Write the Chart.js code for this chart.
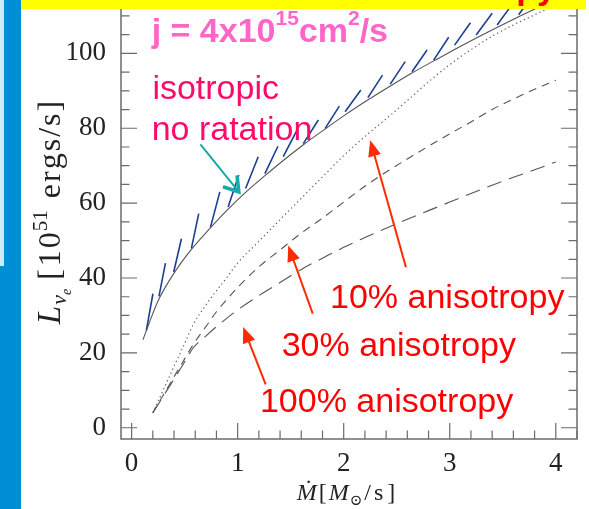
<!DOCTYPE html>
<html>
<head>
<meta charset="utf-8">
<script src="https://cdn.jsdelivr.net/npm/chart.js@4.4.1/dist/chart.umd.min.js"></script>
<style>
  html, body { margin: 0; padding: 0; background: #fff; }
  #wrap { position: relative; width: 589px; height: 509px; overflow: hidden; background: #fff; }
  #chart { position: absolute; left: 0; top: -20px; }
  #bar { position: absolute; left: 0; top: 0; width: 21px; height: 509px; background: #008ed6; }
  #barLight { position: absolute; left: 0; top: 0; width: 4px; height: 266px; background: #cfe9f9; }
  #banner { position: absolute; left: 21px; top: 0; width: 565px; height: 9px; background: #ffff00; overflow: hidden; }
  #banner span { position: absolute; right: 30px; top: -30px; font: bold 34px 'Liberation Sans', Arial, sans-serif; line-height: 34px; color: #ff0000; white-space: nowrap; }
</style>
</head>
<body>
<div id="wrap">
  <canvas id="chart" width="589" height="529"></canvas>
  <div id="bar"></div><div id="barLight"></div>
  <div id="banner"><span>100% anisotropy</span></div>
</div>
<script>
// accretion rate [Msun/s] and neutrino luminosity [1e51 erg/s]
const mdotIso = [0.107, 0.14, 0.2, 0.26, 0.4, 0.56, 0.74, 0.91, 1.08, 1.26, 1.43, 1.62, 1.82, 2.01, 2.23, 2.44, 2.64, 2.85, 3.05, 3.25, 3.45, 3.65, 3.85, 4.0]
const lumIso = [23.5, 26, 30.5, 34.5, 41.3, 47.5, 53.3, 58.4, 63, 67.4, 71.4, 75.6, 79.7, 83.5, 87.6, 91.3, 94.7, 98, 101.1, 104.1, 107, 109.8, 112.5, 114.5]

const mdotAniso = [0.2, 0.3, 0.4, 0.5, 0.58, 0.7, 0.8, 0.9, 1.0, 1.2, 1.4, 1.6, 1.8, 2.0, 2.2, 2.4, 2.6, 2.8, 3.0, 3.2, 3.4, 3.6, 3.8, 4.0]
const lum10 = [4, 10.2, 16.4, 22.5, 27.5, 32.8, 36.6, 40.2, 44, 49.8, 55.6, 61.3, 67, 72.7, 77.8, 82.5, 87.4, 92.4, 97, 101, 104.6, 107.6, 110.3, 113]
const lum30 = [4, 8.8, 13.6, 18.4, 22.2, 27, 31, 34.3, 37.5, 43, 47.5, 52, 56, 60.3, 64.5, 68.3, 71.8, 75.2, 78.5, 81.7, 85, 87.8, 90.4, 92.8]
const lum100 = [4, 8.5, 13, 17.6, 21.3, 24.5, 27, 29.3, 31.5, 35.3, 38.8, 42.3, 45.3, 48.2, 50.8, 53.3, 55.7, 58, 60.3, 62.6, 64.8, 66.9, 68.9, 71]

// hatch strokes above the isotropic curve (start -> end)
const hatchX0 = [0.139, 0.258, 0.397, 0.564, 0.744, 0.910, 1.075, 1.257, 1.430, 1.619, 1.824, 2.013, 2.228, 2.439, 2.644, 2.848, 3.046, 3.249, 3.447, 3.65]
const hatchY0 = [26.0, 35.1, 41.6, 47.9, 53.6, 59.0, 63.9, 67.9, 72.4, 75.9, 79.9, 84.4, 88.2, 91.8, 95.1, 98.2, 102.2, 104.9, 107.6, 110.3]
const hatchX1 = [0.201, 0.319, 0.470, 0.633, 0.832, 1.011, 1.194, 1.380, 1.560, 1.761, 1.959, 2.162, 2.366, 2.580, 2.786, 2.990, 3.195, 3.400, 3.598, 3.80]
const hatchY1 = [35.8, 44.0, 50.5, 57.2, 63.0, 67.5, 72.4, 75.2, 79.5, 82.2, 85.9, 90.2, 94.2, 97.8, 100.9, 104.3, 108.2, 110.7, 113.5, 116.2]

// annotations (anchored in data units)
const noteText = ['isotropic', 'no ratation', '10% anisotropy', '30% anisotropy', '100% anisotropy']
const noteX = [0.196, 0.189, 1.871, 1.415, 1.21]
const noteY = [87.8, 77.0, 32.1, 19.3, 4.2]
const arrowTailX = [2.587, 1.708, 1.264]
const arrowTailY = [42.9, 30.5, 11.6]
const arrowTipX = [2.25, 1.477, 1.052]
const arrowTipY = [76.8, 48.7, 26.9]
const cyanTail = [0.649, 75.7]
const cyanTip = [1.011, 63.0]
const jAnchor = [0.189, 103.1]

const xTicks = [0, 1, 2, 3, 4]
const yTicks = [0, 20, 40, 60, 80, 100]

const toPts = (xs, ys) => xs.map((x, i) => ({ x, y: ys[i] }))

const hatchPts = []
hatchX0.forEach((x0, i) => {
  hatchPts.push({ x: x0, y: hatchY0[i] }, { x: hatchX1[i], y: hatchY1[i] }, { x: hatchX1[i], y: null })
})

const SERIF = "'Liberation Serif', 'DejaVu Serif', serif"
const SANS = "'Liberation Sans', Arial, sans-serif"

function drawArrow(ctx, x0, y0, x1, y1, color, width, headLen, headW, open) {
  const ang = Math.atan2(y1 - y0, x1 - x0)
  ctx.save()
  ctx.strokeStyle = color
  ctx.fillStyle = color
  ctx.lineWidth = width
  ctx.beginPath()
  ctx.moveTo(x0, y0)
  ctx.lineTo(open ? x1 : x1 - Math.cos(ang) * headLen * 0.8, open ? y1 : y1 - Math.sin(ang) * headLen * 0.8)
  ctx.stroke()
  const bx = x1 - Math.cos(ang) * headLen
  const by = y1 - Math.sin(ang) * headLen
  const nx = -Math.sin(ang) * headW / 2
  const ny = Math.cos(ang) * headW / 2
  ctx.beginPath()
  if (open) {
    ctx.lineWidth = width * 1.8
    ctx.moveTo(bx + nx, by + ny)
    ctx.lineTo(x1, y1)
    ctx.lineTo(bx - nx, by - ny)
    ctx.stroke()
  } else {
    ctx.moveTo(x1, y1)
    ctx.lineTo(bx + nx, by + ny)
    ctx.lineTo(bx - nx, by - ny)
    ctx.closePath()
    ctx.fill()
  }
  ctx.restore()
}

function drawRuns(ctx, runs, x, y) {
  runs.forEach(r => {
    ctx.font = r.font
    ctx.fillText(r.text, x, y + (r.dy || 0))
    x += ctx.measureText(r.text).width + (r.gap || 0)
  })
}

function runsWidth(ctx, runs) {
  return runs.reduce((w, r) => {
    ctx.font = r.font
    return w + ctx.measureText(r.text).width + (r.gap || 0)
  }, 0)
}

const frameTicks = {
  id: 'frameTicks',
  afterDatasetsDraw(chart) {
    const { ctx, chartArea: a, scales: { x, y } } = chart
    ctx.save()
    ctx.strokeStyle = '#6b6b6b'
    ctx.lineWidth = 1.5
    ctx.strokeRect(a.left, a.top, a.right - a.left, a.bottom - a.top)
    ctx.lineWidth = 1.2
    ctx.beginPath()
    for (let i = 0; i <= 21; i++) {
      const px = x.getPixelForValue(i * 0.2)
      const len = i % 5 === 0 ? 16 : 8.5
      ctx.moveTo(px, a.bottom); ctx.lineTo(px, a.bottom - len)
      ctx.moveTo(px, a.top); ctx.lineTo(px, a.top + len)
    }
    for (let v = 0; v <= 115; v += 5) {
      const py = y.getPixelForValue(v)
      const len = v % 20 === 0 ? 16 : 8.5
      ctx.moveTo(a.left, py); ctx.lineTo(a.left + len, py)
      ctx.moveTo(a.right, py); ctx.lineTo(a.right - len, py)
    }
    ctx.stroke()
    ctx.restore()
  }
}

const notes = {
  id: 'notes',
  afterDraw(chart) {
    const { ctx, chartArea: a, scales: { x, y } } = chart
    ctx.save()
    ctx.textBaseline = 'alphabetic'
    ctx.textAlign = 'left'

    // j = 4x10^15 cm^2/s
    ctx.fillStyle = '#ff66c8'
    drawRuns(ctx, [
      { text: 'j = 4x10', font: 'bold 34px ' + SANS },
      { text: '15', font: 'bold 21px ' + SANS, dy: -17 },
      { text: 'cm', font: 'bold 34px ' + SANS },
      { text: '2', font: 'bold 21px ' + SANS, dy: -17 },
      { text: '/s', font: 'bold 34px ' + SANS }
    ], x.getPixelForValue(jAnchor[0]), y.getPixelForValue(jAnchor[1]))

    ctx.font = '34px ' + SANS
    noteText.forEach((t, i) => {
      ctx.fillStyle = i < 2 ? '#ff0a6a' : '#ff0000'
      ctx.fillText(t, x.getPixelForValue(noteX[i]), y.getPixelForValue(noteY[i]))
    })

    arrowTailX.forEach((tx, i) => {
      drawArrow(ctx, x.getPixelForValue(tx), y.getPixelForValue(arrowTailY[i]),
        x.getPixelForValue(arrowTipX[i]), y.getPixelForValue(arrowTipY[i]), '#ff2a00', 2, 16, 13, false)
    })
    drawArrow(ctx, x.getPixelForValue(cyanTail[0]), y.getPixelForValue(cyanTail[1]),
      x.getPixelForValue(cyanTip[0]), y.getPixelForValue(cyanTip[1]), '#17a9a9', 2, 14, 18, true)

    // y axis title
    ctx.fillStyle = '#222'
    const big = '32px ' + SERIF
    const yRuns = [
      { text: 'L', font: 'italic 33px ' + SERIF, gap: 1 },
      { text: 'ν', font: 'italic 22px ' + SERIF, dy: 6 },
      { text: 'e', font: 'italic 14px ' + SERIF, dy: 11, gap: 9 },
      { text: '[', font: big, gap: 3 },
      { text: '1', font: big, gap: 2 },
      { text: '0', font: big, gap: 1 },
      { text: '51', font: '21px ' + SERIF, dy: -13, gap: 12 },
      { text: 'e', font: big, gap: 2 },
      { text: 'r', font: big, gap: 2 },
      { text: 'g', font: big, gap: 2 },
      { text: 's', font: big, gap: 2 },
      { text: '/', font: big, gap: 2 },
      { text: 's', font: big, gap: 2 },
      { text: ']', font: big }
    ]
    ctx.save()
    ctx.translate(a.left - 61, (a.top + a.bottom) / 2 - 3)
    ctx.rotate(-Math.PI / 2)
    drawRuns(ctx, yRuns, -runsWidth(ctx, yRuns) / 2, 0)
    ctx.restore()

    // x axis title
    const xRuns = [
      { text: 'Ṁ', font: 'italic 24px ' + SERIF, gap: 2 },
      { text: '[', font: '24px ' + SERIF, gap: 2 },
      { text: 'M', font: 'italic 24px ' + SERIF, gap: 1 },
      { text: '⊙', font: '15px ' + SERIF, dy: 5, gap: 2 },
      { text: '/', font: '24px ' + SERIF, gap: 3 },
      { text: 's', font: '24px ' + SERIF, gap: 4 },
      { text: ']', font: '24px ' + SERIF }
    ]
    const cx = (a.left + a.right) / 2 - 3
    drawRuns(ctx, xRuns, cx - runsWidth(ctx, xRuns) / 2, a.bottom + 61)
    ctx.restore()
  }
}

const curveStyle = {
  borderColor: '#555',
  borderWidth: 1.1,
  pointRadius: 0,
  fill: false,
  cubicInterpolationMode: 'monotone'
}

new Chart(document.getElementById('chart'), {
  type: 'line',
  data: {
    datasets: [
      { label: 'isotropic, no rotation', data: toPts(mdotIso, lumIso), ...curveStyle },
      { label: '10% anisotropy', data: toPts(mdotAniso, lum10), ...curveStyle, borderDash: [1.3, 3] },
      { label: '30% anisotropy', data: toPts(mdotAniso, lum30), ...curveStyle, borderDash: [8, 6] },
      { label: '100% anisotropy', data: toPts(mdotAniso, lum100), ...curveStyle, borderDash: [15, 8] },
      { label: 'hatch', data: hatchPts, borderColor: '#1d3f8f', borderWidth: 1.6, pointRadius: 0, spanGaps: false, tension: 0 }
    ]
  },
  options: {
    responsive: false,
    animation: false,
    devicePixelRatio: 1,
    layout: { padding: { left: 21, right: 12, top: 12, bottom: 0 } },
    plugins: { legend: { display: false }, tooltip: { enabled: false } },
    scales: {
      x: {
        type: 'linear',
        min: -0.1,
        max: 4.2,
        grid: { display: false, drawTicks: false },
        border: { display: false },
        afterBuildTicks: s => { s.ticks = xTicks.map(v => ({ value: v })) },
        ticks: { padding: 9, color: '#222', maxRotation: 0, font: { family: SERIF, size: 27 } },
        afterFit: s => { s.height = 70; s.paddingLeft = 0; s.paddingRight = 0 }
      },
      y: {
        type: 'linear',
        min: -3,
        max: 116.4,
        grid: { display: false, drawTicks: false },
        border: { display: false },
        afterBuildTicks: s => { s.ticks = yTicks.map(v => ({ value: v })) },
        ticks: { padding: 15, color: '#222', font: { family: SERIF, size: 27 } },
        afterFit: s => { s.width = 100; s.paddingTop = 0; s.paddingBottom = 0 }
      }
    }
  },
  plugins: [frameTicks, notes]
})
</script>
</body>
</html>
